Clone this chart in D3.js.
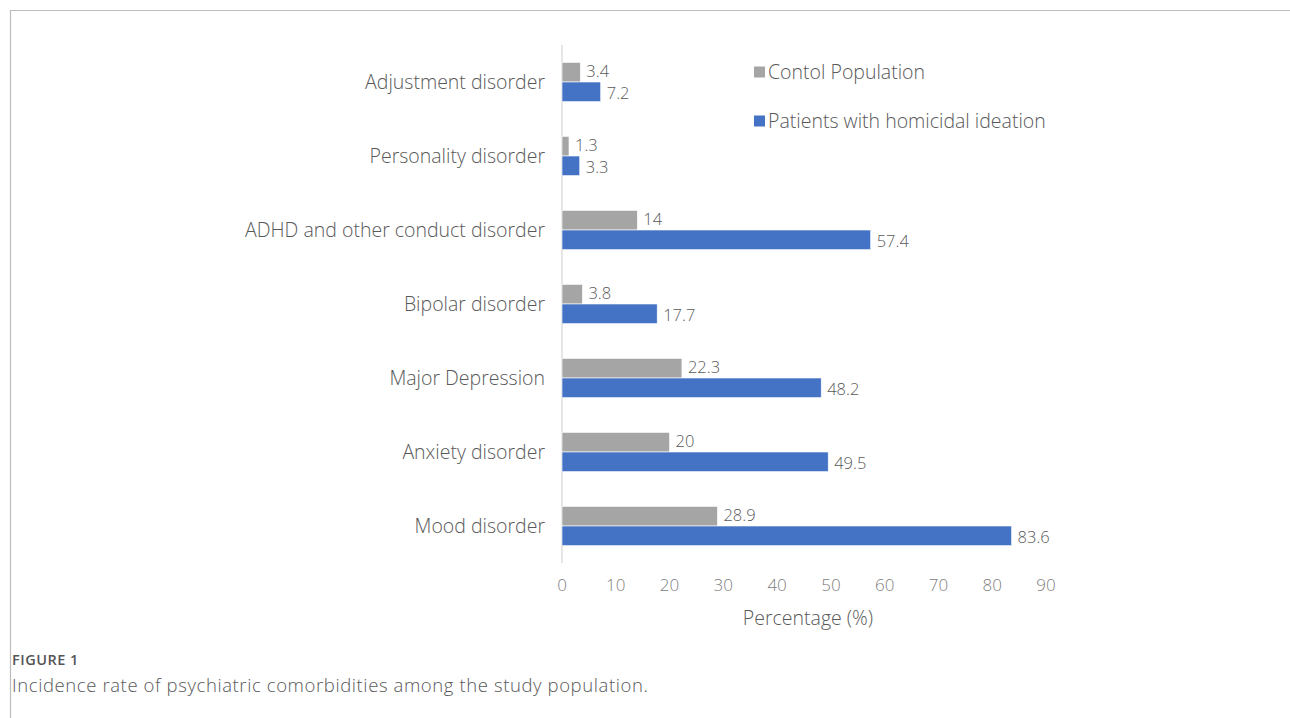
<!DOCTYPE html>
<html>
<head>
<meta charset="utf-8">
<script src="https://cdn.jsdelivr.net/npm/d3@7"></script>
<style>
	body { margin: 0; background: #fff; }
	svg { display: block; }
</style>
</head>
<body>
<div id="chart"></div>
<script>
// categories, top to bottom
var categories = ["Adjustment disorder", "Personality disorder", "ADHD and other conduct disorder",
	"Bipolar disorder", "Major Depression", "Anxiety disorder", "Mood disorder"];
var seriesNames = ["Contol Population", "Patients with homicidal ideation"];
var controlValues = [3.4, 1.3, 14, 3.8, 22.3, 20, 28.9];
var patientValues = [7.2, 3.3, 57.4, 17.7, 48.2, 49.5, 83.6];
var xTicks = [0, 10, 20, 30, 40, 50, 60, 70, 80, 90];
var seriesColors = ["#A5A5A5", "#4472C4"];

var width = 1290, height = 718;
var labelFont = "'Open Sans', Lato, sans-serif";
var textColor = "#595959";

var svg = d3.select("#chart").append("svg")
	.attr("width", width)
	.attr("height", height);

// frame lines (top and left)
svg.append("line")
	.attr("x1", 10).attr("y1", 10.5).attr("x2", width).attr("y2", 10.5)
	.attr("stroke", "#bdbdbd").attr("stroke-width", 1.2);
svg.append("line")
	.attr("x1", 10.5).attr("y1", 10).attr("x2", 10.5).attr("y2", height)
	.attr("stroke", "#bdbdbd").attr("stroke-width", 1.2);

var x = d3.scaleLinear().domain([0, 90]).range([562, 1046]);
var y = d3.scaleBand().domain(categories).range([45, 563]).paddingInner(0.47).paddingOuter(0.235);
var sub = d3.scaleBand().domain([0, 1]).range([0, y.bandwidth()]);

var rows = categories.map(function(c, i) {
	return { name: c, values: [controlValues[i], patientValues[i]] };
});

// category axis line
svg.append("line")
	.attr("x1", x(0)).attr("x2", x(0))
	.attr("y1", y.range()[0]).attr("y2", y.range()[1])
	.attr("stroke", "#d9d9d9").attr("stroke-width", 1.3);

// category labels
svg.selectAll("text.cat").data(categories).enter().append("text")
	.attr("class", "cat")
	.attr("x", 545)
	.attr("y", function(d) { return y(d) + y.bandwidth() / 2; })
	.attr("dy", "0.35em")
	.attr("text-anchor", "end")
	.attr("fill", textColor)
	.style("font-family", labelFont)
	.style("font-size", "19.5px")
	.style("font-weight", "300")
	.text(function(d) { return d; });

var groups = svg.selectAll("g.row").data(rows).enter().append("g")
	.attr("class", "row")
	.attr("transform", function(d) { return "translate(0," + y(d.name) + ")"; });

groups.selectAll("rect").data(function(d) { return d.values; }).enter().append("rect")
	.attr("x", x(0))
	.attr("y", function(d, i) { return sub(i); })
	.attr("width", function(d) { return x(d) - x(0); })
	.attr("height", sub.bandwidth())
	.attr("fill", function(d, i) { return seriesColors[i]; })
	.attr("stroke", "#fff")
	.attr("stroke-width", 0.6);

// value labels, nudged apart a little so the two rows don't collide
groups.selectAll("text").data(function(d) { return d.values; }).enter().append("text")
	.attr("x", function(d) { return x(d) + 6; })
	.attr("y", function(d, i) { return sub(i) + sub.bandwidth() / 2 + (i === 0 ? -1 : 1); })
	.attr("dy", "0.35em")
	.attr("fill", textColor)
	.style("font-family", labelFont)
	.style("font-size", "16.5px")
	.style("font-weight", "300")
	.text(function(d) { return d; });

// x axis tick labels (no line)
svg.selectAll("text.tick").data(xTicks).enter().append("text")
	.attr("class", "tick")
	.attr("x", function(d) { return x(d); })
	.attr("y", 585)
	.attr("dy", "0.35em")
	.attr("text-anchor", "middle")
	.attr("fill", "#808080")
	.style("font-family", labelFont)
	.style("font-size", "17px")
	.style("font-weight", "300")
	.text(function(d) { return d; });

svg.append("text")
	.attr("x", x(45) + 4)
	.attr("y", 618)
	.attr("dy", "0.35em")
	.attr("text-anchor", "middle")
	.attr("fill", textColor)
	.style("font-family", labelFont)
	.style("font-size", "19.5px")
	.style("font-weight", "300")
	.text("Percentage (%)");

// legend
var legend = svg.selectAll("g.legend").data(seriesNames).enter().append("g")
	.attr("class", "legend")
	.attr("transform", function(d, i) { return "translate(754," + (72 + i * 49) + ")"; });
legend.append("rect")
	.attr("x", 0).attr("y", -5.5)
	.attr("width", 11).attr("height", 11)
	.attr("fill", function(d, i) { return seriesColors[i]; });
legend.append("text")
	.attr("x", 14)
	.attr("dy", "0.35em")
	.attr("fill", textColor)
	.style("font-family", labelFont)
	.style("font-size", "19.5px")
	.style("font-weight", "300")
	.text(function(d) { return d; });

// caption
svg.append("text")
	.attr("x", 12).attr("y", 665)
	.attr("fill", "#555")
	.style("font-family", "'Open Sans', sans-serif")
	.style("font-size", "14.5px")
	.style("font-weight", "600")
	.style("letter-spacing", "0.5px")
	.text("FIGURE 1");
svg.append("text")
	.attr("x", 12).attr("y", 692)
	.attr("fill", "#595959")
	.style("font-family", "'Open Sans', sans-serif")
	.style("font-size", "18.5px")
	.style("font-weight", "300")
	.style("letter-spacing", "0.6px")
	.text("Incidence rate of psychiatric comorbidities among the study population.");
</script>
</body>
</html>
